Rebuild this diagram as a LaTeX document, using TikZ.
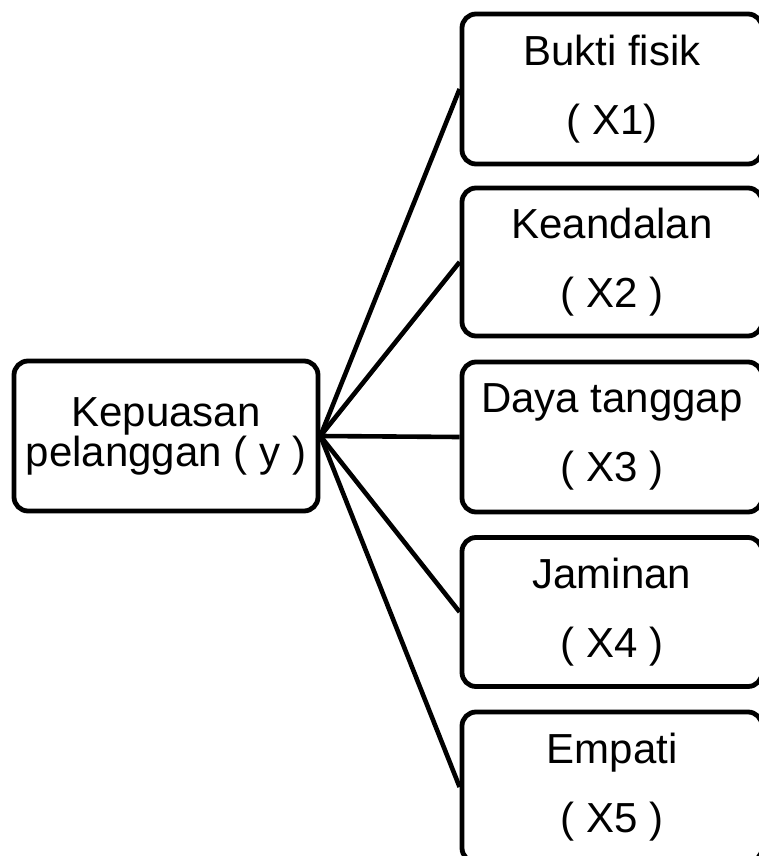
\documentclass[tikz,border=0pt]{standalone}
\usepackage{fontspec}
\setmainfont{Liberation Sans}
\usetikzlibrary{positioning}

\begin{document}
\begin{tikzpicture}[
    x=1pt, y=-1pt,
    box/.style={
      draw=black,
      line width=4.8pt,
      rounded corners=14pt,
      minimum width=300pt,
      minimum height=150pt,
      inner sep=0pt,
      align=center,
      font=\fontsize{42}{69}\selectfont
    },
    link/.style={line width=4.6pt}
  ]
  \useasboundingbox (0,0) rectangle (758,856);

  % dependent variable
  \node[box, minimum width=304pt, font=\fontsize{42}{39}\selectfont]
    (kepuasan) at (166,436) {Kepuasan\\pelanggan ( y )};

  % service quality dimensions
  \node[box] (fisik) at (612,89) {Bukti fisik\\( X1)};
  \node[box, minimum height=148pt] (andal) at (612,262) {Keandalan\\( X2 )};
  \node[box] (tanggap) at (612,437) {Daya tanggap\\( X3 )};
  \node[box, minimum height=149pt] (jaminan) at (612,612) {Jaminan\\( X4 )};
  \node[box] (empati) at (612,787) {Empati\\( X5 )};

  % connectors
  \draw[link] (kepuasan.east) -- (fisik.west);
  \draw[link] (kepuasan.east) -- (andal.west);
  \draw[link] (kepuasan.east) -- (tanggap.west);
  \draw[link] (kepuasan.east) -- (jaminan.west);
  \draw[link] (kepuasan.east) -- (empati.west);
\end{tikzpicture}
\end{document}
